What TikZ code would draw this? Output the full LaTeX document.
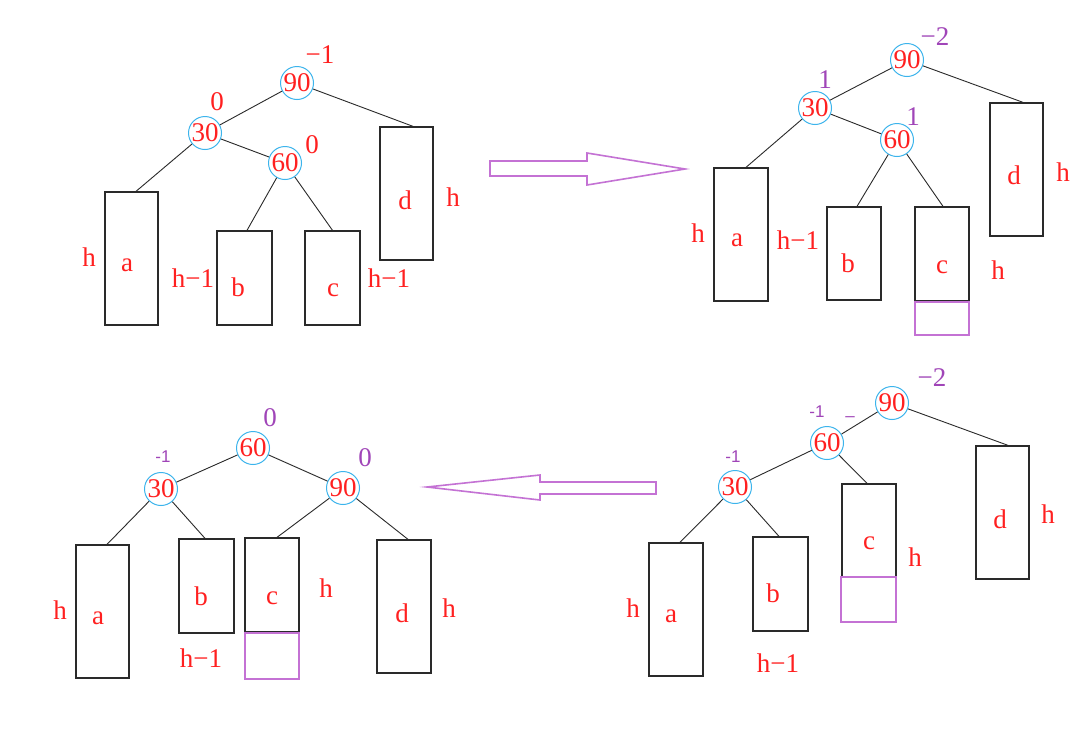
\documentclass[tikz,border=0pt]{standalone}
\usepackage{fontspec}
\setmainfont{Liberation Serif}
\newfontfamily\lsans{Liberation Sans}
\definecolor{txtred}{HTML}{FF2020}
\definecolor{txtpurple}{HTML}{A045B8}
\definecolor{boxpurple}{HTML}{C472D4}
\definecolor{ringblue}{HTML}{3CB4EC}
\definecolor{linegray}{HTML}{2A2A2A}
\begin{document}
\begin{tikzpicture}[x=1pt,y=-1pt,
  lbl/.style={text=txtred, font=\fontsize{27}{30}\selectfont, inner sep=0pt},
  plbl/.style={text=txtpurple, font=\fontsize{27}{30}\selectfont, inner sep=0pt},
  splbl/.style={text=txtpurple, font=\lsans\fontsize{17}{19}\selectfont, inner sep=0pt},
  key/.style={circle, draw=ringblue, line width=1pt, minimum size=33pt, inner sep=0pt, text=txtred, font=\fontsize{27}{30}\selectfont},
  sub/.style={draw=linegray, line width=1.3pt, inner sep=0pt},
  extra/.style={draw=boxpurple, line width=1.3pt, inner sep=0pt},
  tree/.style={draw=linegray, line width=0.9pt},
  bigarrow/.style={draw=boxpurple, line width=1.6pt, line join=miter, fill=white}
]
\useasboundingbox[fill=white] (0,0) rectangle (1089,745);

% ---------------- top-left tree ----------------
\node[key] (n90a) at (297,83) {90};
\node[key] (n30a) at (205,133) {30};
\node[key] (n60a) at (285,163) {60};
\node[sub, minimum width=53pt, minimum height=133pt] (A1) at (131.5,258.5) {};
\node[sub, minimum width=55pt, minimum height=94pt] (B1) at (244.5,278) {};
\node[sub, minimum width=55pt, minimum height=94pt] (C1) at (332.5,278) {};
\node[sub, minimum width=53pt, minimum height=133pt] (D1) at (406.5,193.5) {};
\draw[tree] (n90a) -- (n30a);
\draw[tree] (n90a) -- ([xshift=6.5pt]D1.north);
\draw[tree] (n30a) -- ([xshift=4.5pt]A1.north);
\draw[tree] (n30a) -- (n60a);
\draw[tree] (n60a) -- ([xshift=2.5pt]B1.north);
\draw[tree] (n60a) -- (C1.north);
\node[lbl] (t1) at (320,55) {−1};
\node[lbl] (t2) at (217,102) {0};
\node[lbl] (t3) at (312,145) {0};
\node[lbl] (t4) at (89,257) {h};
\node[lbl] (t5) at (127,265) {a};
\node[lbl] (t6) at (193,278) {h−1};
\node[lbl] (t7) at (238,287) {b};
\node[lbl] (t8) at (333,290) {c};
\node[lbl] (t9) at (389,278) {h−1};
\node[lbl] (t10) at (405,200) {d};
\node[lbl] (t11) at (453,197) {h};

% ---------------- top-right tree ----------------
\node[key] (n90b) at (907,60) {90};
\node[key] (n30b) at (815,108) {30};
\node[key] (n60b) at (897,140) {60};
\node[sub, minimum width=54pt, minimum height=133pt] (A2) at (741,234.5) {};
\node[sub, minimum width=54pt, minimum height=93pt] (B2) at (854,253.5) {};
\node[sub, minimum width=54pt, minimum height=94pt] (C2) at (942,254) {};
\node[extra, minimum width=54pt, minimum height=33pt] (P2) at (942,318.5) {};
\node[sub, minimum width=53pt, minimum height=133pt] (D2) at (1016.5,169.5) {};
\draw[tree] (n90b) -- (n30b);
\draw[tree] (n90b) -- ([xshift=6.5pt]D2.north);
\draw[tree] (n30b) -- ([xshift=5pt]A2.north);
\draw[tree] (n30b) -- (n60b);
\draw[tree] (n60b) -- ([xshift=3pt]B2.north);
\draw[tree] (n60b) -- ([xshift=1pt]C2.north);
\node[plbl] (u1) at (935,37) {−2};
\node[plbl] (u2) at (825,80) {1};
\node[plbl] (u3) at (913,117) {1};
\node[lbl] (u4) at (698,233) {h};
\node[lbl] (u5) at (737,240) {a};
\node[lbl] (u6) at (798,240) {h−1};
\node[lbl] (u7) at (848,263) {b};
\node[lbl] (u8) at (942,267) {c};
\node[lbl] (u9) at (998,270) {h};
\node[lbl] (u10) at (1014,175) {d};
\node[lbl] (u11) at (1063,172) {h};

% ---------------- bottom-left tree ----------------
\node[key] (n60c) at (253,448) {60};
\node[key] (n30c) at (161,489) {30};
\node[key] (n90c) at (343,488) {90};
\node[sub, minimum width=53pt, minimum height=133pt] (A3) at (102.5,611.5) {};
\node[sub, minimum width=55pt, minimum height=94pt] (B3) at (206.5,586) {};
\node[sub, minimum width=54pt, minimum height=94pt] (C3) at (272,585) {};
\node[extra, minimum width=54pt, minimum height=46pt] (P3) at (272,656) {};
\node[sub, minimum width=54pt, minimum height=133pt] (D3) at (404,606.5) {};
\draw[tree] (n60c) -- (n30c);
\draw[tree] (n60c) -- (n90c);
\draw[tree] (n30c) -- ([xshift=4.5pt]A3.north);
\draw[tree] (n30c) -- ([xshift=-1.5pt]B3.north);
\draw[tree] (n90c) -- ([xshift=5pt]C3.north);
\draw[tree] (n90c) -- ([xshift=4pt]D3.north);
\node[plbl] (v1) at (270,418) {0};
\node[splbl] (v2) at (163,457) {-1};
\node[plbl] (v3) at (365,458) {0};
\node[lbl] (v4) at (60,610) {h};
\node[lbl] (v5) at (98,618) {a};
\node[lbl] (v6) at (201,596) {b};
\node[lbl] (v7) at (272,598) {c};
\node[lbl] (v8) at (326,588) {h};
\node[lbl] (v9) at (201,658) {h−1};
\node[lbl] (v10) at (402,613) {d};
\node[lbl] (v11) at (449,608) {h};

% ---------------- bottom-right tree ----------------
\node[key] (n90d) at (892,403) {90};
\node[key] (n60d) at (827,443) {60};
\node[key] (n30d) at (735,487) {30};
\node[sub, minimum width=54pt, minimum height=133pt] (A4) at (676,609.5) {};
\node[sub, minimum width=55pt, minimum height=94pt] (B4) at (780.5,584) {};
\node[sub, minimum width=54pt, minimum height=93pt] (C4) at (869,530.5) {};
\node[extra, minimum width=55pt, minimum height=45pt] (P4) at (868.5,599.5) {};
\node[sub, minimum width=53pt, minimum height=133pt] (D4) at (1002.5,512.5) {};
\draw[tree] (n90d) -- (n60d);
\draw[tree] (n90d) -- ([xshift=5.5pt]D4.north);
\draw[tree] (n60d) -- (n30d);
\draw[tree] (n60d) -- ([xshift=-2pt]C4.north);
\draw[tree] (n30d) -- ([xshift=4pt]A4.north);
\draw[tree] (n30d) -- ([xshift=-1.5pt]B4.north);
\node[plbl] (w1) at (932,378) {−2};
\node[splbl] (w2) at (817,412) {-1};
\node[splbl] (w3) at (850,419) {–};
\node[splbl] (w4) at (733,457) {-1};
\node[lbl] (w5) at (633,608) {h};
\node[lbl] (w6) at (671,616) {a};
\node[lbl] (w7) at (773,593) {b};
\node[lbl] (w8) at (869,543) {c};
\node[lbl] (w9) at (915,557) {h};
\node[lbl] (w10) at (1000,519) {d};
\node[lbl] (w11) at (1048,514) {h};
\node[lbl] (w12) at (778,663) {h−1};

% ---------------- block arrows ----------------
\draw[bigarrow] (490,161) -- (587,161) -- (587,153) -- (685,169) -- (587,185) -- (587,176) -- (490,176) -- cycle;
\draw[bigarrow] (656,482) -- (540,482) -- (540,475) -- (427,487) -- (540,500) -- (540,494) -- (656,494) -- cycle;
\end{tikzpicture}
\end{document}
